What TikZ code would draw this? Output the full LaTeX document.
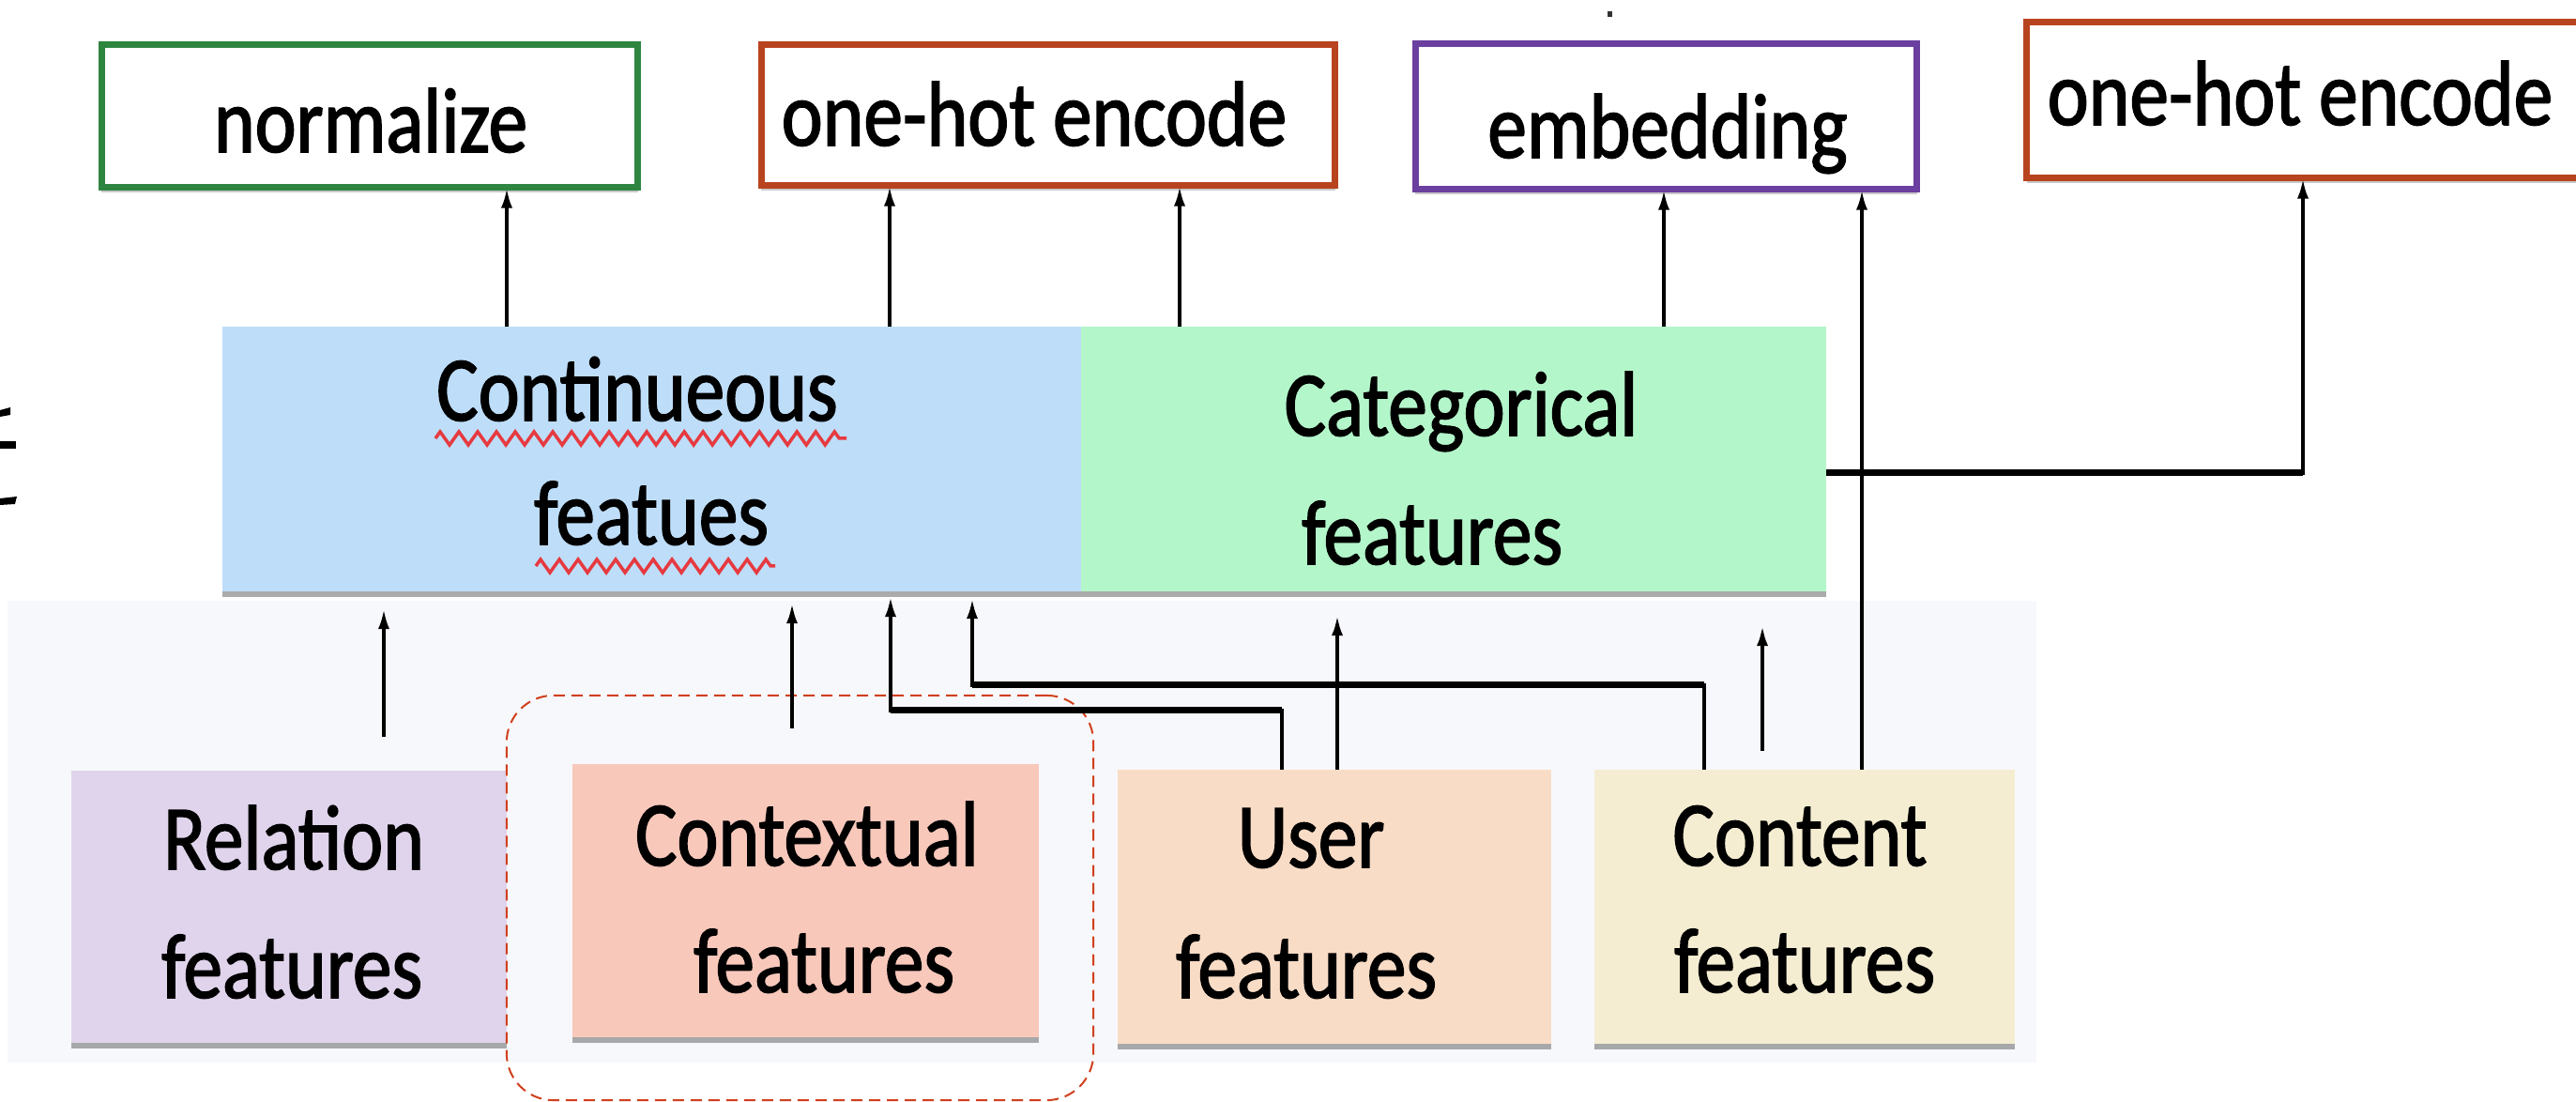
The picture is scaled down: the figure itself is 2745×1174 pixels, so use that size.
\documentclass[tikz,border=0pt]{standalone}
\usepackage{fontspec}
\setmainfont{Carlito}[FakeStretch=0.85, FakeBold=1.6]
\usetikzlibrary{arrows.meta,shadows,decorations.pathmorphing}

\definecolor{normgreen}{HTML}{2E8540}
\definecolor{onehotred}{HTML}{B8431F}
\definecolor{embpurple}{HTML}{6B3FA0}
\definecolor{contblue}{HTML}{BEDDF8}
\definecolor{catgreen}{HTML}{B3F6CA}
\definecolor{relpurple}{HTML}{E0D4EC}
\definecolor{ctxsalmon}{HTML}{F8C8BB}
\definecolor{userpeach}{HTML}{F9DCC6}
\definecolor{contcream}{HTML}{F5EDD2}
\definecolor{squiggle}{HTML}{E63A40}
\definecolor{dashred}{HTML}{D0401E}
\definecolor{panelgray}{HTML}{F7F8FB}

\newcommand\diagfont{\fontsize{27.9pt}{34pt}\selectfont}

\begin{document}
\begin{tikzpicture}[x=0.01cm, y=-0.01cm,
  every node/.style={inner sep=0pt, outer sep=0pt},
  opbox/.style={draw, line width=0.07cm, fill=white,
    drop shadow={shadow xshift=0cm, shadow yshift=-0.05cm, opacity=0.35, fill=black!60}},
  featbox/.style={fill=#1,
    drop shadow={shadow xshift=0cm, shadow yshift=-0.06cm, opacity=0.5, fill=black!65}},
  lbl/.style={anchor=base, font=\diagfont},
  arr/.style={-{Latex[length=0.22cm,width=0.12cm]}, line width=0.04cm},
  hseg/.style={line width=0.07cm},
  squig/.style={draw=squiggle, line width=0.035cm, decorate,
    decoration={zigzag, segment length=0.2cm, amplitude=0.07cm}},
]
% canvas
\fill[white] (0,0) rectangle (2745,1174);
\useasboundingbox (0,0) rectangle (2745,1174);
\fill[panelgray] (8,640) rectangle (2170,1132);

% stray marks at the edges
\fill[black] (0,437) -- (11,434) -- (11,442) -- (0,444) -- cycle;
\fill[black] (0,470) rectangle (17,478);
\fill[black] (0,531) -- (18,529) -- (16,537) -- (0,538) -- cycle;
\fill[black!80] (1713,12) rectangle (1718,18);

% operation boxes
\node[opbox, draw=normgreen, minimum width=5.71cm, minimum height=1.52cm] (norm) at (394,123.5) {};
\node[opbox, draw=onehotred, minimum width=6.11cm, minimum height=1.50cm] (oh1) at (1117,122.5) {};
\node[opbox, draw=embpurple, minimum width=5.34cm, minimum height=1.55cm] (emb) at (1775.5,124) {};
\node[opbox, draw=onehotred, minimum width=6.00cm, minimum height=1.66cm] (oh2) at (2460,106.5) {};

\node[lbl] (tnorm) at (395,162) {normalize};
\node[lbl] (toh1) at (1102,155) {one-hot encode};
\node[lbl] (temb) at (1777,168) {embedding};
\node[lbl] (toh2) at (2451,133) {one-hot encode};

% feature type bar
\node[featbox=contblue, minimum width=9.15cm, minimum height=2.82cm] (cont) at (694.5,489) {};
\node[featbox=catgreen, minimum width=7.94cm, minimum height=2.82cm] (cat) at (1549,489) {};

\node[lbl] (tcont1) at (679,448) {Continueous};
\node[lbl] (tcont2) at (694,580) {featues};
\node[lbl] (tcat1) at (1557,464) {Categorical};
\node[lbl] (tcat2) at (1526,601) {features};
\draw[squig] (464,467) -- (902,467);
\draw[squig] (571,603) -- (826,603);

% feature sources
\node[featbox=relpurple, minimum width=4.64cm, minimum height=2.90cm] (rel) at (308,966) {};
\node[featbox=ctxsalmon, minimum width=4.97cm, minimum height=2.91cm] (ctx) at (858.5,959.5) {};
\node[featbox=userpeach, minimum width=4.62cm, minimum height=2.92cm] (user) at (1422,966) {};
\node[featbox=contcream, minimum width=4.48cm, minimum height=2.92cm] (content) at (1923,966) {};

\node[lbl] (trel1) at (313,926) {Relation};
\node[lbl] (trel2) at (311,1063) {features};
\node[lbl] (tctx1) at (860,922) {Contextual};
\node[lbl] (tctx2) at (878,1057) {features};
\node[lbl] (tuser1) at (1397,924) {User};
\node[lbl] (tuser2) at (1392,1063) {features};
\node[lbl] (tcon1) at (1918,922) {Content};
\node[lbl] (tcon2) at (1923,1057) {features};

% highlight frame around the contextual features
\node[draw=dashred, line width=0.02cm, dash pattern=on 0.12cm off 0.07cm,
      rounded corners=0.5cm, minimum width=6.25cm, minimum height=4.31cm] (focus) at (852.5,956.5) {};

% connector columns
\coordinate (xnorm) at (540,0);
\coordinate (xoha) at (948,0);
\coordinate (xohb) at (1257,0);
\coordinate (xemb) at (1773,0);
\coordinate (xcemb) at (1984,0);
\coordinate (xrel) at (409,0);
\coordinate (xctx) at (844,0);
\coordinate (xuser) at (1425,0);
\coordinate (xcon) at (1878,0);
\coordinate (koh) at (2454,504);
\coordinate (ku) at (1366,757);
\coordinate (kue) at (949,757);
\coordinate (kc) at (1816,730);
\coordinate (kce) at (1036,730);

% bar to operations
\draw[arr] (xnorm |- cont.north) -- (xnorm |- norm.south);
\draw[arr] (xoha |- cont.north) -- (xoha |- oh1.south);
\draw[arr] (xohb |- cat.north) -- (xohb |- oh1.south);
\draw[arr] (xemb |- cat.north) -- (xemb |- emb.south);
\draw[arr] (cat.east |- koh) -- (koh) -- (oh2.south -| koh);
\draw[hseg] (cat.east |- koh) -- (koh);
\draw[arr] (xcemb |- content.north) -- (xcemb |- emb.south);

% sources to bar
\draw[arr, shorten <=0.36cm, shorten >=0.18cm] (xrel |- rel.north) -- (xrel |- cont.south);
\draw[arr, shorten <=0.38cm, shorten >=0.12cm] (xctx |- ctx.north) -- (xctx |- cont.south);
\draw[arr, shorten >=0.25cm] (xuser |- user.north) -- (xuser |- cat.south);
\draw[arr, shorten <=0.20cm, shorten >=0.36cm] (xcon |- content.north) -- (xcon |- cat.south);
\draw[arr, shorten >=0.05cm] (ku |- user.north) -- (ku) -- (kue) -- (kue |- cont.south);
\draw[hseg] (ku) -- (kue);
\draw[arr, shorten >=0.07cm] (kc |- content.north) -- (kc) -- (kce) -- (kce |- cont.south);
\draw[hseg] (kc) -- (kce);
\end{tikzpicture}
\end{document}
